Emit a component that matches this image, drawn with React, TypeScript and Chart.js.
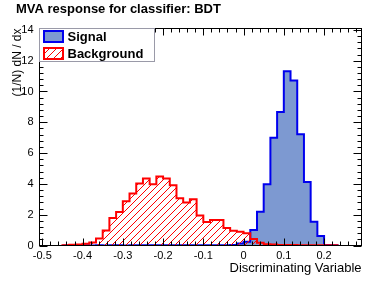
import React, { useEffect, useRef } from "react";
import { Chart, registerables } from "chart.js";

Chart.register(...registerables);

// ---- data (bins of width 1/60, first bin starts at FIRST_BIN/60) ----
const BINS_PER_UNIT = 60;
const FIRST_BIN = -27;

const signalValues = [
  0.0, 0.0, 0.0, 0.01, 0.0, 0.01, 0.0, 0.01, 0.01, 0.0, 0.01, 0.01, 0.01, 0.01,
  0.01, 0.01, 0.01, 0.01, 0.01, 0.01, 0.02, 0.01, 0.02, 0.02, 0.02, 0.04, 0.13,
  0.25, 1.0, 2.19, 3.98, 7.0, 8.67, 11.32, 10.72, 7.22, 4.13, 1.54, 0.62, 0.03, 0.01,
];

const backgroundValues = [
  0.02, 0.05, 0.06, 0.12, 0.2, 0.45, 0.98, 1.78, 2.18, 2.88, 3.38, 4.03, 4.35, 3.98,
  4.48, 4.35, 3.92, 3.06, 2.8, 3.0, 1.95, 1.52, 1.66, 1.66, 1.13, 0.95, 0.9,
  0.8, 0.43, 0.18, 0.08, 0.06, 0.04, 0.03, 0.03, 0.02, 0.02, 0.02, 0.01, 0.01, 0.01,
];

const xMin = -0.507;
const xMax = 0.293;
const yMin = 0;
const yMax = 14.09;
const xMajorTicks = [-0.5, -0.4, -0.3, -0.2, -0.1, 0, 0.1, 0.2];
const yMajorTicks = [0, 2, 4, 6, 8, 10, 12, 14];
const xMinorStep = 0.02;
const yMinorStep = 0.4;

const TITLE = "MVA response for classifier: BDT";
const X_TITLE = "Discriminating Variable";
const Y_TITLE = "(1/N) dN / dx";
const SIGNAL_LABEL = "Signal";
const BACKGROUND_LABEL = "Background";

const FONT = '"Liberation Sans", Arial, Helvetica, sans-serif';
const SIGNAL_FILL = "#7d99d1";
const SIGNAL_LINE = "#0000ee";
const BG_LINE = "#ff0000";

function stepPoints(values: number[]) {
  const pts: { x: number; y: number }[] = [];
  const edge = (i: number) => (FIRST_BIN + i) / BINS_PER_UNIT;
  pts.push({ x: edge(0), y: 0 });
  values.forEach((v, i) => pts.push({ x: edge(i), y: v }));
  pts.push({ x: edge(values.length), y: 0 });
  return pts;
}

function makeHatch(color: string): CanvasPattern | string {
  const s = 7;
  const c = document.createElement("canvas");
  c.width = s;
  c.height = s;
  const g = c.getContext("2d");
  if (!g) return color;
  g.strokeStyle = color;
  g.lineWidth = 1;
  g.beginPath();
  for (const k of [-1, 0, 1]) {
    g.moveTo(k * s, s);
    g.lineTo(k * s + s, 0);
  }
  g.stroke();
  return g.createPattern(c, "repeat") || color;
}

function fmt(v: number) {
  const r = Math.round(v * 10) / 10;
  return r === 0 ? "0" : String(r);
}

export default function App() {
  const ref = useRef<HTMLCanvasElement | null>(null);

  useEffect(() => {
    const canvas = ref.current;
    if (!canvas) return;
    const hatch = makeHatch(BG_LINE);

    const rootStyle = {
      id: "rootStyle",
      afterDraw(chart: any) {
        const { ctx, chartArea: a, scales } = chart;
        const xs = scales.x;
        const ys = scales.y;
        ctx.save();
        ctx.strokeStyle = "#000";
        ctx.lineWidth = 1;
        ctx.strokeRect(a.left, a.top, a.right - a.left, a.bottom - a.top);

        const px = (v: number) => Math.round(xs.getPixelForValue(v)) + 0.5;
        const py = (v: number) => Math.round(ys.getPixelForValue(v)) + 0.5;
        const near = (v: number, arr: number[]) => arr.some((t) => Math.abs(t - v) < 1e-6);

        ctx.beginPath();
        const nx0 = Math.ceil(xMin / xMinorStep - 1e-9);
        const nx1 = Math.floor(xMax / xMinorStep + 1e-9);
        for (let n = nx0; n <= nx1; n++) {
          const v = Math.round(n * xMinorStep * 1000) / 1000;
          const len = near(v, xMajorTicks) ? 7 : 4;
          const x = px(v);
          ctx.moveTo(x, a.bottom);
          ctx.lineTo(x, a.bottom - len);
          ctx.moveTo(x, a.top);
          ctx.lineTo(x, a.top + len);
        }
        const ny1 = Math.floor(yMax / yMinorStep + 1e-9);
        for (let n = 0; n <= ny1; n++) {
          const v = Math.round(n * yMinorStep * 1000) / 1000;
          const len = near(v, yMajorTicks) ? 8 : 4;
          const y = py(v);
          ctx.moveTo(a.left, y);
          ctx.lineTo(a.left + len, y);
          ctx.moveTo(a.right, y);
          ctx.lineTo(a.right - len, y);
        }
        ctx.stroke();

        // legend
        ctx.fillStyle = "#fff";
        ctx.fillRect(a.left, a.top, 115, 33);
        ctx.strokeStyle = "#9a9aa8";
        ctx.strokeRect(a.left, a.top, 115, 33);

        ctx.fillStyle = SIGNAL_FILL;
        ctx.fillRect(44, 31, 19, 11);
        ctx.strokeStyle = SIGNAL_LINE;
        ctx.lineWidth = 2;
        ctx.strokeRect(44, 31, 19, 11);

        ctx.fillStyle = hatch as any;
        ctx.fillRect(44, 48, 19, 11);
        ctx.strokeStyle = BG_LINE;
        ctx.strokeRect(44, 48, 19, 11);

        ctx.fillStyle = "#000";
        ctx.font = `bold 13px ${FONT}`;
        ctx.textAlign = "left";
        ctx.textBaseline = "alphabetic";
        ctx.fillText(SIGNAL_LABEL, 67.5, 40.5);
        ctx.fillText(BACKGROUND_LABEL, 67.5, 57.5);

        ctx.font = `bold 13px ${FONT}`;
        ctx.fillText(TITLE, 16, 12.5);

        ctx.font = `13px ${FONT}`;
        ctx.textAlign = "right";
        ctx.fillText(X_TITLE, a.right, 271.5);

        ctx.save();
        ctx.translate(20.5, a.top);
        ctx.rotate(-Math.PI / 2);
        ctx.font = `12px ${FONT}`;
        ctx.textAlign = "right";
        ctx.fillText(Y_TITLE, 0, 0);
        ctx.restore();

        ctx.restore();
      },
    };

    const chart = new Chart(canvas, {
      type: "line",
      data: {
        datasets: [
          {
            label: SIGNAL_LABEL,
            data: stepPoints(signalValues),
            stepped: "before",
            borderColor: SIGNAL_LINE,
            borderWidth: 2,
            backgroundColor: SIGNAL_FILL,
            fill: "origin",
            pointRadius: 0,
            order: 2,
          },
          {
            label: BACKGROUND_LABEL,
            data: stepPoints(backgroundValues),
            stepped: "before",
            borderColor: BG_LINE,
            borderWidth: 2,
            backgroundColor: hatch as any,
            fill: "origin",
            pointRadius: 0,
            order: 1,
          },
        ],
      },
      options: {
        animation: false,
        responsive: false,
        devicePixelRatio: 1,
        events: [],
        layout: { padding: { left: 0, right: 19.5, top: 28.5, bottom: 0 } },
        plugins: {
          legend: { display: false },
          title: { display: false },
          tooltip: { enabled: false },
        },
        scales: {
          x: {
            type: "linear",
            min: xMin,
            max: xMax,
            grid: { display: false, drawTicks: false },
            border: { display: false },
            afterBuildTicks: (s: any) => {
              s.ticks = xMajorTicks.map((v) => ({ value: v }));
            },
            ticks: {
              autoSkip: false,
              maxRotation: 0,
              padding: 4,
              color: "#000",
              font: { family: FONT, size: 11 },
              callback: (v: any) => fmt(Number(v)),
            },
            afterFit: (s: any) => {
              s.height = 35.5;
            },
          },
          y: {
            type: "linear",
            min: yMin,
            max: yMax,
            grid: { display: false, drawTicks: false },
            border: { display: false },
            afterBuildTicks: (s: any) => {
              s.ticks = yMajorTicks.map((v) => ({ value: v }));
            },
            ticks: {
              autoSkip: false,
              padding: 6,
              color: "#000",
              font: { family: FONT, size: 11 },
              callback: (v: any) => String(Math.round(Number(v))),
            },
            afterFit: (s: any) => {
              s.width = 39.5;
            },
          },
        },
      },
      plugins: [rootStyle],
    } as any);

    return () => chart.destroy();
  }, []);

  return (
    <div style={{ position: "fixed", left: 0, top: 0, width: 381, height: 281, background: "#fff" }}>
      <canvas ref={ref} width={381} height={281} style={{ display: "block", width: 381, height: 281 }} />
    </div>
  );
}
